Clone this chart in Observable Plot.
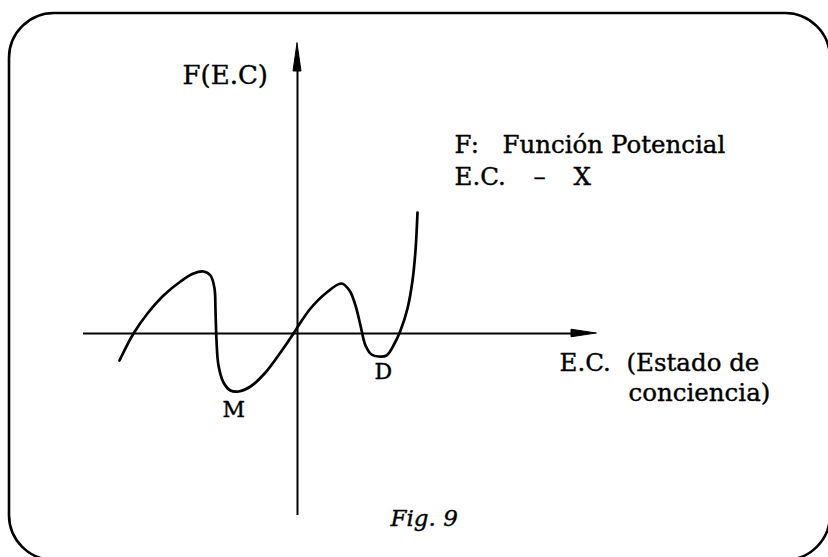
<!DOCTYPE html>
<html>
<head>
<meta charset="utf-8">
<script src="https://cdn.jsdelivr.net/npm/d3@7"></script>
<script src="https://cdn.jsdelivr.net/npm/@observablehq/plot@0.6"></script>
<style>
  html, body { margin: 0; padding: 0; background: #fff; }
  svg { display: block; }
</style>
</head>
<body>
<div id="chart"></div>
<script>
// Curve F(E.C) (abstract units, origin at axes crossing)
const curveX = [-8.9, -8.2, -7.5, -6.7, -5.85, -5.2, -4.7, -4.35, -4.15, -4.1, -4.05, -3.95, -3.7, -3.35, -2.95, -2.35, -1.6, -0.85, -0.2, 0.15, 0.65, 1.4, 2.2, 2.6, 2.9, 3.15, 3.4, 3.7, 4.05, 4.45, 4.85, 5.15, 5.5, 5.75, 5.9, 6.0];
const curveY = [-1.35, 0, 1.0, 1.9, 2.6, 3.0, 3.1, 2.9, 2.25, 1.15, -0.35, -1.6, -2.45, -2.85, -2.9, -2.65, -1.95, -0.95, 0, 0.55, 1.25, 2.0, 2.5, 2.15, 1.4, 0.4, -0.6, -1.05, -1.15, -1.1, -0.5, 0.15, 1.25, 2.65, 4.15, 6.05];

// Text labels
const labelText = ["F(E.C)", "F:", "Función Potencial", "E.C.", "–", "X", "E.C.", "(Estado de", "conciencia)", "D", "M"];
const captionText = ["Fig. 9"];

// Layout (abstract units)
const labelX = [-5.75, 7.85, 10.25, 7.85, 11.8, 13.8, 13.1, 16.45, 16.55, 3.85, -3.75];
const labelY = [12.5, 9.05, 9.05, 7.45, 7.45, 7.45, -1.85, -1.85, -3.35, -2.25, -4.15];
const labelSize = [26, 24.5, 24.5, 24.5, 24.5, 24.5, 24.5, 24.5, 24.5, 22, 22];
const captionX = [4.65], captionY = [-9.6];

const curve = curveX.map((x, i) => ({x, y: curveY[i]}));
const labels = labelText.map((t, i) => ({t, x: labelX[i], y: labelY[i], s: labelSize[i]}));
const captions = captionText.map((t, i) => ({t, x: captionX[i], y: captionY[i]}));

const xAxisEnd = [-10.7, 13.7], yAxisEnd = [-9.1, 13.2];
const xHead = [{x: 14.95, y1: 0, y2: 0}, {x: 13.7, y1: -0.19, y2: 0.19}];
const yHead = [{y: 14.5, x1: 0, x2: 0}, {y: 13.1, x1: -0.2, x2: 0.2}];
const border = [{x1: -14.4, x2: 26.65, y1: -11.35, y2: 16.0}];

const serif = "'DejaVu Serif', 'Liberation Serif', serif";

const chart = Plot.plot({
  width: 828,
  height: 557,
  margin: 0,
  x: {domain: [-14.85, 26.55], axis: null},
  y: {domain: [-11.2, 16.65], axis: null},
  marks: [
    Plot.rect(border, {x1: "x1", x2: "x2", y1: "y1", y2: "y2", fill: "none", stroke: "#000", strokeWidth: 2.6, rx: 45}),
    Plot.ruleY([0], {x1: xAxisEnd[0], x2: xAxisEnd[1], stroke: "#000", strokeWidth: 2.2}),
    Plot.ruleX([0], {y1: yAxisEnd[0], y2: yAxisEnd[1], stroke: "#000", strokeWidth: 2}),
    Plot.areaY(xHead, {x: "x", y1: "y1", y2: "y2", fill: "#000", stroke: "#000", strokeWidth: 1}),
    Plot.areaX(yHead, {y: "y", x1: "x1", x2: "x2", fill: "#000", stroke: "#000", strokeWidth: 1}),
    Plot.line(curve, {x: "x", y: "y", curve: "catmull-rom", stroke: "#000", strokeWidth: 2.7}),
    Plot.text(labels, {x: "x", y: "y", text: "t", fontSize: d => d.s, textAnchor: "start", lineAnchor: "bottom", fill: "#000", stroke: "#000", strokeWidth: 0.4, fontFamily: serif}),
    Plot.text(captions, {x: "x", y: "y", text: "t", fontSize: 23, textAnchor: "start", lineAnchor: "bottom", fill: "#000", stroke: "#000", strokeWidth: 0.4, fontFamily: serif, fontStyle: "italic"})
  ]
});
document.getElementById("chart").appendChild(chart);
</script>
</body>
</html>
